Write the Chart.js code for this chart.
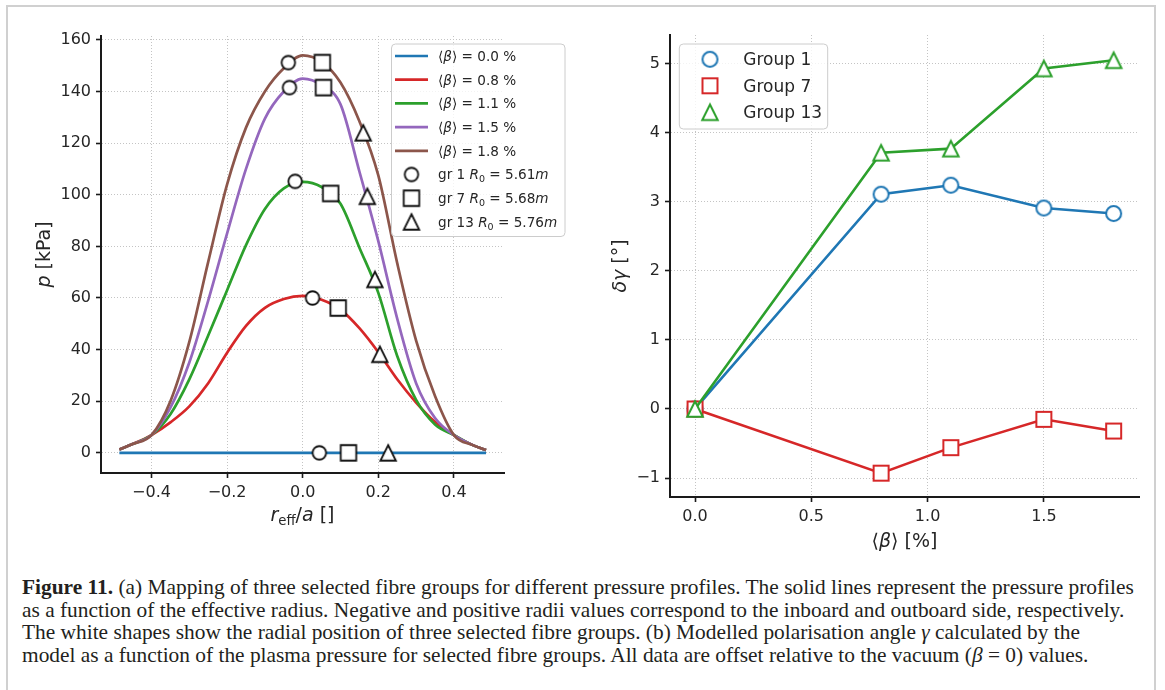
<!DOCTYPE html>
<html>
<head>
<meta charset="utf-8">
<script src="https://cdn.jsdelivr.net/npm/chart.js@4.4.0/dist/chart.umd.min.js"></script>
<style>
  html, body { margin: 0; padding: 0; background: #fff; }
  #page { position: relative; width: 1165px; height: 690px; overflow: hidden; background: #fff; }
  #frame { position: absolute; left: 6px; top: 5px; width: 1150px; height: 740px; border: 2px solid #d0d0d0; box-sizing: border-box; }
  #cl { position: absolute; left: 0; top: 0; }
  #cr { position: absolute; left: 590px; top: 0; }
  #caption { position: absolute; left: 22px; top: 576px; font-family: "Liberation Serif", "DejaVu Serif", serif; font-size: 17px; line-height: 22.6px; color: #231f20; white-space: nowrap; }
  #caption span.l { display: inline-block; }
</style>
</head>
<body>
<div id="page">
  <div id="frame"></div>
  <canvas id="cl" width="590" height="560"></canvas>
  <canvas id="cr" width="575" height="560"></canvas>
  <div id="caption">
    <span class="l"><b>Figure 11.</b> (a) Mapping of three selected fibre groups for different pressure profiles. The solid lines represent the pressure profiles</span><br>
    <span class="l" id="capRef">as a function of the effective radius. Negative and positive radii values correspond to the inboard and outboard side, respectively.</span><br>
    <span class="l">The white shapes show the radial position of three selected fibre groups. (b) Modelled polarisation angle <i>γ</i> calculated by the</span><br>
    <span class="l">model as a function of the plasma pressure for selected fibre groups. All data are offset relative to the vacuum (<i>β</i> = 0) values.</span>
  </div>
</div>
<script>
// ---------------- (a) pressure profiles ----------------
// effective radius r_eff / a
const rEff = [-0.485, -0.45, -0.4, -0.35, -0.3, -0.25, -0.2, -0.15, -0.1, -0.05, 0, 0.05, 0.1, 0.15, 0.2, 0.25, 0.3, 0.35, 0.4, 0.45, 0.485];
// pressure p [kPa] for each volume-averaged beta
const pBeta00 = [0, 0, 0, 0, 0, 0, 0, 0, 0, 0, 0, 0, 0, 0, 0, 0, 0, 0, 0, 0, 0];
const pBeta08 = [1.3, 3.4, 6.9, 11.8, 18, 27, 38.8, 49.2, 56.2, 59.6, 60.8, 59.3, 55.5, 48.3, 39, 28.5, 19.5, 12, 6.9, 3, 1.1];
const pBeta11 = [1.3, 3.4, 6.9, 15, 28.5, 45.5, 63, 80.5, 94.5, 102.5, 105, 103, 96.5, 79.5, 62, 37.5, 20.5, 11, 6.9, 3, 1.1];
const pBeta15 = [1.3, 3.4, 6.9, 17.5, 35, 59, 85, 110, 129.5, 140, 145, 142.5, 135, 109, 82, 52, 27, 13.5, 6.9, 3, 1.1];
const pBeta18 = [1.3, 3.4, 6.9, 20, 43, 74, 104, 126, 140, 149, 154, 151.5, 143.5, 128.5, 107.5, 73.5, 43.5, 22, 6.9, 3, 1.1];
const betaLabels = ['0.0', '0.8', '1.1', '1.5', '1.8'];

// fibre group positions on each profile
const gr1R = [0.044, 0.026, -0.020, -0.035, -0.038];
const gr1P = [0, 60.0, 105.2, 141.5, 151.2];
const gr7R = [0.121, 0.094, 0.074, 0.055, 0.052];
const gr7P = [0, 56.1, 100.5, 141.5, 151.2];
const gr13R = [0.226, 0.204, 0.191, 0.171, 0.160];
const gr13P = [0, 38.2, 67.2, 99.4, 124.0];
const groupNames = ['gr 1', 'gr 7', 'gr 13'];
const groupR0 = ['5.61', '5.68', '5.76'];

const pTicks = [0, 20, 40, 60, 80, 100, 120, 140, 160];
const rTicks = [-0.4, -0.2, 0.0, 0.2, 0.4];

// ---------------- (b) polarisation angle ----------------
const betaPct = [0, 0.8, 1.1, 1.5, 1.8];
const dGammaG1 = [0, 3.11, 3.24, 2.91, 2.83];
const dGammaG7 = [0, -0.93, -0.56, -0.15, -0.32];
const dGammaG13 = [0, 3.71, 3.77, 4.93, 5.05];
const groupLabels = ['Group 1', 'Group 7', 'Group 13'];

const gTicks = [-1, 0, 1, 2, 3, 4, 5];
const bTicks = [0.0, 0.5, 1.0, 1.5];

// ---------------- helpers ----------------
const FONT = '"DejaVu Sans", sans-serif';
const INK = '#1a1a1a';
const TXT = '#262626';
const tab = ['#1f77b4', '#d62728', '#2ca02c', '#9467bd', '#8c564b'];

Chart.defaults.font.family = FONT;
Chart.defaults.color = TXT;

function fmtSigned(v, d) {
  const s = Math.abs(v).toFixed(d);
  return (v < 0 ? '\u2212' : '') + s;
}

function makeMarker(shape, size, stroke, lw) {
  const pad = Math.ceil(lw) + 2;
  const n = Math.ceil(size + 2 * pad);
  const c = document.createElement('canvas');
  c.width = n; c.height = n;
  const g = c.getContext('2d');
  const m = n / 2, h = size / 2;
  g.beginPath();
  if (shape === 'circle') g.arc(m, m, h, 0, 2 * Math.PI);
  else if (shape === 'square') g.rect(m - h, m - h, size, size);
  else { g.moveTo(m, m - h); g.lineTo(m + h, m + h); g.lineTo(m - h, m + h); g.closePath(); }
  g.fillStyle = '#fff'; g.fill();
  g.lineWidth = lw; g.strokeStyle = stroke; g.lineJoin = 'miter';
  g.stroke();
  return c;
}

function runFont(run, size) {
  const s = run.sub ? size * 0.7 : size;
  return (run.it ? 'italic ' : '') + s + 'px ' + FONT;
}
function runsWidth(ctx, runs, size) {
  let w = 0;
  for (const r of runs) { ctx.font = runFont(r, size); w += ctx.measureText(r.t).width; }
  return w;
}
function drawRuns(ctx, runs, x, y, size, align) {
  let cx = align === 'center' ? x - runsWidth(ctx, runs, size) / 2 : x;
  ctx.textBaseline = 'alphabetic';
  ctx.textAlign = 'left';
  for (const r of runs) {
    ctx.font = runFont(r, size);
    ctx.fillText(r.t, cx, y + (r.sub ? size * 0.22 : 0));
    cx += ctx.measureText(r.t).width;
  }
}
function roundRect(ctx, x, y, w, h, r) {
  ctx.beginPath();
  ctx.moveTo(x + r, y);
  ctx.lineTo(x + w - r, y); ctx.arcTo(x + w, y, x + w, y + r, r);
  ctx.lineTo(x + w, y + h - r); ctx.arcTo(x + w, y + h, x + w - r, y + h, r);
  ctx.lineTo(x + r, y + h); ctx.arcTo(x, y + h, x, y + h - r, r);
  ctx.lineTo(x, y + r); ctx.arcTo(x, y, x + r, y, r);
  ctx.closePath();
}

function axisStyle(tickValues, fmt, opts) {
  return Object.assign({
    type: 'linear',
    afterBuildTicks: s => { s.ticks = tickValues.map(v => ({ value: v })); },
    ticks: { callback: fmt, font: { family: FONT, size: 16 }, color: TXT, padding: 5, maxRotation: 0, autoSkip: false },
    grid: { color: '#c4c4c4', lineWidth: 1, tickLength: 5, tickWidth: 1.6, tickColor: INK, tickBorderDash: [] },
    border: { color: INK, width: 2, dash: [1, 2] }
  }, opts);
}

// ---------------- chart (a) ----------------
const blackMarkers = {
  circle: makeMarker('circle', 13.5, '#111', 1.8),
  square: makeMarker('square', 15.5, '#111', 1.8),
  tri: makeMarker('tri', 15.5, '#111', 1.8)
};
const profiles = [pBeta00, pBeta08, pBeta11, pBeta15, pBeta18];
const groupSets = [[gr1R, gr1P, 'circle'], [gr7R, gr7P, 'square'], [gr13R, gr13P, 'tri']];

const dsA = profiles.map((p, i) => ({
  label: '\u27E8\u03B2\u27E9 = ' + betaLabels[i] + ' %',
  data: rEff.map((r, j) => ({ x: r, y: p[j] })),
  borderColor: tab[i],
  borderWidth: 2.7,
  pointRadius: 0,
  cubicInterpolationMode: 'monotone',
  fill: false,
  order: 10 - i
}));
groupSets.forEach(([rr, pp, shape], k) => {
  dsA.push({
    label: groupNames[k] + ' R0 = ' + groupR0[k] + 'm',
    data: rr.map((r, j) => ({ x: r, y: pp[j] })),
    showLine: false,
    pointStyle: blackMarkers[shape],
    pointRadius: 8,
    order: 0
  });
});

const decorA = {
  id: 'decorA',
  afterDraw(chart) {
    const ctx = chart.ctx, a = chart.chartArea;
    ctx.save();
    ctx.fillStyle = TXT;
    // axis titles
    drawRuns(ctx, [{ t: 'r', it: 1 }, { t: 'eff', sub: 1 }, { t: '/' }, { t: 'a', it: 1 }, { t: ' []' }], (a.left + a.right) / 2, 521, 19, 'center');
    ctx.save();
    ctx.translate(50, (a.top + a.bottom) / 2);
    ctx.rotate(-Math.PI / 2);
    drawRuns(ctx, [{ t: 'p', it: 1 }, { t: ' [kPa]' }], 0, 0, 19, 'center');
    ctx.restore();
    // legend
    const bx = a.left + 290.5, by = 44, bw = 173.5, bh = 192.5;
    roundRect(ctx, bx, by, bw, bh, 4);
    ctx.fillStyle = 'rgba(255,255,255,0.8)'; ctx.fill();
    ctx.strokeStyle = '#cccccc'; ctx.lineWidth = 1; ctx.stroke();
    const size = 13.6, dy = 23.7;
    for (let i = 0; i < 5; i++) {
      const y = by + 12 + i * dy;
      ctx.strokeStyle = tab[i]; ctx.lineWidth = 2.7;
      ctx.beginPath(); ctx.moveTo(bx + 3.5, y); ctx.lineTo(bx + 36.5, y); ctx.stroke();
      ctx.fillStyle = TXT;
      drawRuns(ctx, [{ t: '\u27E8' }, { t: '\u03B2', it: 1 }, { t: '\u27E9 = ' + betaLabels[i] + ' %' }], bx + 46.5, y + size * 0.36, size, 'left');
    }
    groupSets.forEach(([, , shape], k) => {
      const y = by + 12 + (5 + k) * dy;
      const img = blackMarkers[shape];
      ctx.drawImage(img, bx + 20 - img.width / 2, y - img.height / 2);
      ctx.fillStyle = TXT;
      drawRuns(ctx, [{ t: groupNames[k] + ' ' }, { t: 'R', it: 1 }, { t: '0', sub: 1 }, { t: ' = ' + groupR0[k] }, { t: 'm', it: 1 }], bx + 46.5, y + size * 0.36, size, 'left');
    });
    ctx.restore();
  }
};

new Chart(document.getElementById('cl'), {
  type: 'line',
  data: { datasets: dsA },
  options: {
    responsive: false, animation: false, devicePixelRatio: 1,
    layout: { padding: { left: 0, top: 36, right: 86, bottom: 0 } },
    plugins: { legend: { display: false }, tooltip: { enabled: false } },
    scales: {
      x: axisStyle(rTicks, v => fmtSigned(v, 1), { min: -0.5336, max: 0.5325, afterFit: s => { s.height = 87; } }),
      y: axisStyle(pTicks, v => fmtSigned(v, 0), { min: -7.8, max: 161.5, afterFit: s => { s.width = 101; } })
    }
  },
  plugins: [decorA]
});

// ---------------- chart (b) ----------------
const colMarkers = [
  makeMarker('circle', 15, tab[0], 2),
  makeMarker('square', 15, tab[1], 2),
  makeMarker('tri', 15.5, tab[2], 2)
];
const gammaSeries = [dGammaG1, dGammaG7, dGammaG13];
const dsB = gammaSeries.map((g, k) => ({
  label: groupLabels[k],
  data: betaPct.map((b, j) => ({ x: b, y: g[j] })),
  borderColor: tab[k],
  borderWidth: 2.6,
  pointStyle: colMarkers[k],
  pointRadius: 9,
  tension: 0,
  order: 2 - k
}));

const decorB = {
  id: 'decorB',
  afterDraw(chart) {
    const ctx = chart.ctx, a = chart.chartArea;
    ctx.save();
    ctx.fillStyle = TXT;
    drawRuns(ctx, [{ t: '\u27E8' }, { t: '\u03B2', it: 1 }, { t: '\u27E9 [%]' }], (a.left + a.right) / 2, 547, 19, 'center');
    ctx.save();
    ctx.translate(36, (a.top + a.bottom) / 2);
    ctx.rotate(-Math.PI / 2);
    drawRuns(ctx, [{ t: '\u03B4\u03B3', it: 1 }, { t: ' [\u00B0]' }], 0, 0, 19, 'center');
    ctx.restore();
    // legend
    const bx = a.left + 9.3, by = 44, bw = 148.4, bh = 85;
    roundRect(ctx, bx, by, bw, bh, 4);
    ctx.fillStyle = 'rgba(255,255,255,0.8)'; ctx.fill();
    ctx.strokeStyle = '#cccccc'; ctx.lineWidth = 1; ctx.stroke();
    const size = 17;
    groupLabels.forEach((lab, k) => {
      const y = by + 15.3 + k * 26.5;
      const img = colMarkers[k];
      ctx.drawImage(img, bx + 30.7 - img.width / 2, y - img.height / 2);
      ctx.fillStyle = TXT;
      drawRuns(ctx, [{ t: lab }], bx + 64, y + size * 0.36, size, 'left');
    });
    ctx.restore();
  }
};

new Chart(document.getElementById('cr'), {
  type: 'line',
  data: { datasets: dsB },
  options: {
    responsive: false, animation: false, devicePixelRatio: 1,
    layout: { padding: { left: 0, top: 35, right: 26, bottom: 0 } },
    plugins: { legend: { display: false }, tooltip: { enabled: false } },
    scales: {
      x: axisStyle(bTicks, v => fmtSigned(v, 1), { min: -0.1075, max: 1.909, afterFit: s => { s.height = 63; } }),
      y: axisStyle(gTicks, v => fmtSigned(v, 0), { min: -1.275, max: 5.416, afterFit: s => { s.width = 80; } })
    }
  },
  plugins: [decorB]
});

// caption size: fit the second line to its set width
(function () {
  const ref = document.getElementById('capRef');
  const w = ref.getBoundingClientRect().width;
  const cap = document.getElementById('caption');
  cap.style.fontSize = (17 * 1103 / w).toFixed(2) + 'px';
})();
</script>
</body>
</html>
